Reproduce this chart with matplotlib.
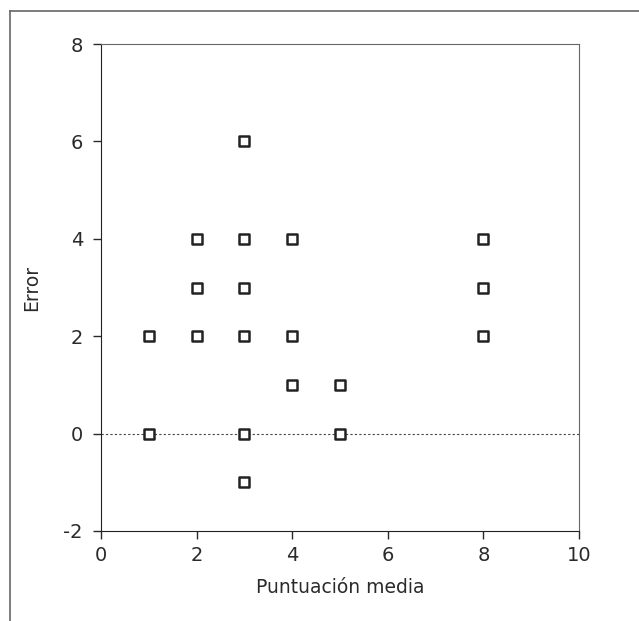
import matplotlib
matplotlib.use("Agg")
import matplotlib.pyplot as plt
from matplotlib.lines import Line2D

# data
mean_score = [1, 1, 2, 2, 2, 3, 3, 3, 3, 3, 3, 4, 4, 4, 5, 5, 8, 8, 8]
error = [2, 0, 4, 3, 2, 6, 4, 3, 2, 0, -1, 4, 2, 1, 1, 0, 4, 3, 2]
x_ticks = [0, 2, 4, 6, 8, 10]
y_ticks = [-2, 0, 2, 4, 6, 8]

plt.rcParams['font.family'] = ['DejaVu Sans']
plt.rcParams['axes.unicode_minus'] = False

fig = plt.figure(figsize=(6.39, 6.21), dpi=100)
ax = fig.add_axes([101 / 639, 1 - 531 / 621, (579 - 101) / 639, (531 - 44) / 621])

ax.axhline(0, color='#444444', linestyle=(0, (2, 2)), linewidth=0.8, zorder=1)
ax.scatter(mean_score, error, marker='s', s=60, facecolor='white',
           edgecolor='#222222', linewidth=1.8, zorder=3, clip_on=False)

ax.set_xlim(0, 10)
ax.set_ylim(-2, 8)
ax.set_xticks(x_ticks)
ax.set_yticks(y_ticks)
ax.tick_params(direction='out', length=6, width=1, labelsize=14, colors='#2a2a2a')
ax.tick_params(axis='x', pad=5)
ax.tick_params(axis='y', pad=7)
for side in ['left', 'bottom']:
    ax.spines[side].set_color('#222222')
for side in ['top', 'right']:
    ax.spines[side].set_color('#666666')
ax.set_xlabel('Puntuación media', fontsize=13.5, color='#2a2a2a', labelpad=9)
ax.set_ylabel('Error', fontsize=13.5, color='#2a2a2a', labelpad=16)

# outer frame (top and left only)
fig.add_artist(Line2D([10 / 639, 1], [1 - 11 / 621, 1 - 11 / 621],
                      transform=fig.transFigure, color='#666666', linewidth=1.2))
fig.add_artist(Line2D([10 / 639, 10 / 639], [0, 1 - 11 / 621],
                      transform=fig.transFigure, color='#666666', linewidth=1.2))

fig.savefig('out.png', dpi=100)
